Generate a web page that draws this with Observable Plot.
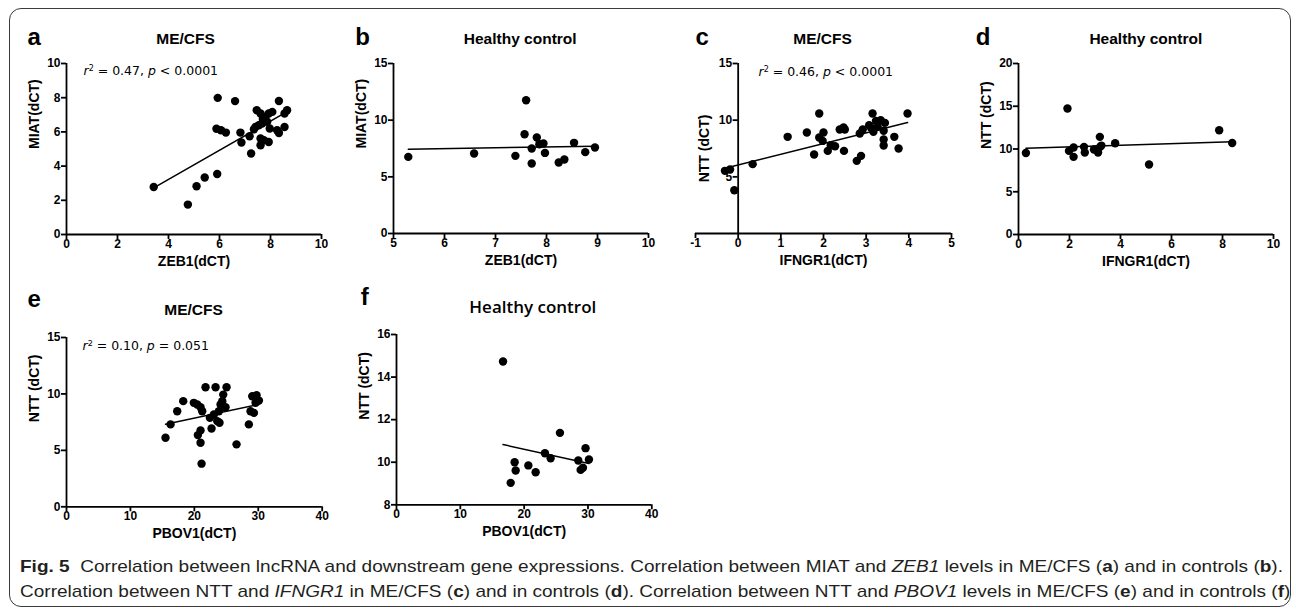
<!DOCTYPE html>
<html>
<head>
<meta charset="utf-8">
<script src="https://cdn.jsdelivr.net/npm/d3@7"></script>
<script src="https://cdn.jsdelivr.net/npm/@observablehq/plot@0.6"></script>
<style>
  html, body { margin: 0; padding: 0; background: #fff; }
  #page { position: relative; width: 1296px; height: 613px; overflow: hidden; background: #fff; }
  #frame { position: absolute; left: 9px; top: 8px; width: 1282px; height: 599px; box-sizing: border-box;
           border: 1.6px solid #3a3a3a; border-radius: 12px; }
  .cap { position: absolute; left: 20px; white-space: nowrap; transform-origin: 0 0;
         font-family: "Liberation Sans Narrow", "Liberation Sans", Arial, sans-serif; font-size: 17px;
         line-height: 20px; color: #231f20; }
  .cap b { font-weight: bold; }
  .cap i { font-style: italic; }
</style>
</head>
<body>
<div id="page">
  <div id="frame"></div>
</div>
<script>
// ---------------- data ----------------
// a: ME/CFS, ZEB1 vs MIAT
const aZEB1 = [3.42, 4.76, 5.10, 5.42, 5.91, 5.93, 6.61, 5.88, 6.06, 6.25, 6.82, 6.86, 7.18, 7.24, 7.41, 7.46, 7.61, 7.54, 7.67, 7.80, 7.93, 8.07, 8.33, 8.65, 8.55, 7.87, 7.97, 7.61, 7.74, 7.61, 7.93, 8.26, 8.55, 8.33, 7.35, 7.70];
const aMIAT = [2.78, 1.75, 2.82, 3.33, 3.54, 7.99, 7.80, 6.18, 6.10, 5.96, 5.96, 5.38, 5.75, 4.74, 6.29, 7.27, 7.08, 6.39, 6.49, 6.88, 7.08, 7.17, 7.81, 7.27, 7.08, 6.59, 6.20, 5.61, 5.51, 5.22, 5.41, 6.10, 6.29, 5.94, 6.15, 6.75];
// b: Healthy control, ZEB1 vs MIAT
const bZEB1 = [5.29, 6.58, 7.39, 7.60, 7.57, 7.71, 7.81, 7.86, 7.94, 7.97, 7.71, 8.24, 8.35, 8.54, 8.76, 8.95];
const bMIAT = [6.76, 7.06, 6.85, 11.76, 8.76, 7.50, 8.47, 7.88, 7.94, 7.11, 6.18, 6.27, 6.53, 8.00, 7.18, 7.59];
// c: ME/CFS, IFNGR1 vs NTT
const cIFNGR1 = [-0.31, -0.19, -0.09, 0.34, 1.16, 1.61, 1.90, 1.90, 2.00, 1.98, 1.78, 2.10, 2.17, 2.27, 2.38, 2.47, 2.50, 2.48, 2.78, 2.88, 2.85, 2.92, 3.07, 3.15, 3.17, 3.27, 3.23, 3.34, 3.44, 3.41, 3.41, 3.41, 3.66, 3.76, 3.97, 3.11];
const cNTT    = [5.53, 5.65, 3.82, 6.12, 8.53, 8.91, 10.59, 8.47, 8.91, 8.17, 6.97, 7.29, 7.79, 7.70, 9.18, 9.35, 9.18, 7.29, 6.41, 6.85, 8.82, 9.18, 9.56, 10.59, 8.97, 9.41, 9.94, 10.00, 9.76, 9.06, 8.30, 7.77, 8.53, 7.50, 10.59, 9.35];
// d: Healthy control, IFNGR1 vs NTT
const dIFNGR1 = [0.29, 1.92, 1.98, 2.16, 2.16, 2.57, 2.60, 2.96, 3.05, 3.12, 3.20, 3.19, 3.25, 3.79, 5.12, 7.87, 8.38];
const dNTT    = [9.54, 14.74, 9.78, 10.17, 9.08, 10.25, 9.59, 9.94, 9.95, 9.59, 10.25, 11.42, 10.40, 10.68, 8.19, 12.20, 10.71];
// e: ME/CFS, PBOV1 vs NTT
const ePBOV1 = [21.75, 23.32, 25.04, 18.26, 17.32, 16.28, 15.49, 19.92, 20.45, 20.97, 21.23, 20.97, 20.55, 20.97, 21.13, 22.69, 22.43, 23.06, 23.58, 23.94, 23.84, 24.10, 24.37, 24.52, 24.88, 26.60, 28.53, 28.79, 29.32, 29.06, 29.73, 30.10, 29.58];
const eNTT   = [10.59, 10.59, 10.59, 9.36, 8.47, 7.30, 6.12, 9.21, 9.06, 8.82, 8.47, 6.77, 6.35, 5.68, 3.82, 6.94, 7.88, 8.18, 7.59, 7.44, 8.47, 9.06, 9.36, 9.94, 8.82, 5.53, 7.30, 8.47, 8.32, 9.80, 9.88, 9.41, 9.21];
// f: Healthy control, PBOV1 vs NTT
const fPBOV1 = [16.69, 17.89, 18.51, 18.67, 20.66, 21.80, 23.26, 24.15, 25.61, 28.48, 28.85, 29.21, 29.62, 30.15];
const fNTT   = [14.73, 9.03, 10.00, 9.61, 9.85, 9.53, 10.42, 10.19, 11.38, 10.08, 9.64, 9.74, 10.66, 10.13];

// tick labels
const ticksA_x = [0, 2, 4, 6, 8, 10], ticksA_y = [0, 2, 4, 6, 8, 10];
const ticksB_x = [5, 6, 7, 8, 9, 10], ticksB_y = [0, 5, 10, 15];
const ticksC_x = [-1, 0, 1, 2, 3, 4, 5], ticksC_y = [5, 10, 15];
const ticksD_x = [0, 2, 4, 6, 8, 10], ticksD_y = [0, 5, 10, 15, 20];
const ticksE_x = [0, 10, 20, 30, 40], ticksE_y = [0, 5, 10, 15];
const ticksF_x = [0, 10, 20, 30, 40], ticksF_y = [8, 10, 12, 14, 16];

// text
const titles = ["ME/CFS", "Healthy control", "ME/CFS", "Healthy control", "ME/CFS", "Healthy control"];
const letters = ["a", "b", "c", "d", "e", "f"];
const stats = {a: ["0.47", "<", "0.0001"], c: ["0.46", "<", "0.0001"], e: ["0.10", "=", "0.051"]};

// ---------------- layout ----------------
const panels = [
  {id: "a", xs: aZEB1, ys: aMIAT, xDomain: [0, 10], yDomain: [0, 10], xTicks: ticksA_x, yTicks: ticksA_y,
   xLabel: "ZEB1(dCT)", yLabel: "MIAT(dCT)", frame: [66, 321, 63.3, 234.3], letterPos: [27, 45], titlePos: [185, 44], statPos: [83, 75]},
  {id: "b", xs: bZEB1, ys: bMIAT, xDomain: [5, 10], yDomain: [0, 15], xTicks: ticksB_x, yTicks: ticksB_y,
   xLabel: "ZEB1(dCT)", yLabel: "MIAT(dCT)", frame: [393.3, 648.3, 63.3, 233.3], letterPos: [355, 45], titlePos: [520, 44]},
  {id: "c", xs: cIFNGR1, ys: cNTT, xDomain: [-1, 5], yDomain: [0, 15], xTicks: ticksC_x, yTicks: ticksC_y, yAxisAtZero: true,
   xLabel: "IFNGR1(dCT)", yLabel: "NTT (dCT)", frame: [695, 951, 63.3, 233.3], letterPos: [695, 45], titlePos: [822, 44], statPos: [758, 75.5]},
  {id: "d", xs: dIFNGR1, ys: dNTT, xDomain: [0, 10], yDomain: [0, 20], xTicks: ticksD_x, yTicks: ticksD_y,
   xLabel: "IFNGR1(dCT)", yLabel: "NTT (dCT)", frame: [1017.7, 1272.7, 63.3, 234.3], letterPos: [975, 45], titlePos: [1145, 44]},
  {id: "e", xs: ePBOV1, ys: eNTT, xDomain: [0, 40], yDomain: [0, 15], xTicks: ticksE_x, yTicks: ticksE_y,
   xLabel: "PBOV1(dCT)", yLabel: "NTT (dCT)", frame: [66, 321.7, 336.7, 506], letterPos: [27, 306], titlePos: [193, 314], statPos: [82, 349]},
  {id: "f", xs: fPBOV1, ys: fNTT, xDomain: [0, 40], yDomain: [8, 16], xTicks: ticksF_x, yTicks: ticksF_y,
   xLabel: "PBOV1(dCT)", yLabel: "NTT (dCT)", frame: [395.7, 651, 334, 504.3], letterPos: [360, 305], titlePos: [532, 313],
   titleFont: "'Open Sans', 'Liberation Sans', sans-serif", titleSize: 17, titleWeight: 600}
];

const FONT = "'Liberation Sans', Arial, Helvetica, sans-serif";
const AX = 1.8;
const fmt = d => String(d);

function renderPanel(p, i) {
  const [fx0, fx1, fy0, fy1] = p.frame;
  const mL = 75, mR = 24, mT = 62, mB = 50;
  const width = fx1 - fx0 + mL + mR;
  const height = fy1 - fy0 + mT + mB;
  const fcx = (fx0 + fx1) / 2;
  const data = p.xs.map((x, k) => ({x, y: p.ys[k]}));
  const axisOpts = {tickSize: 5, strokeWidth: AX, fontSize: 12, fontWeight: "bold", label: null, tickFormat: fmt};
  const st = stats[p.id];
  const statText = st ? `r2 = ${st[0]}, p ${st[1]} ${st[2]}` : null;

  const marks = [
    Plot.ruleY([p.yDomain[0]], {stroke: "#000", strokeWidth: AX}),
    p.yAxisAtZero ? Plot.ruleX([0], {stroke: "#000", strokeWidth: AX})
                  : Plot.ruleX([p.xDomain[0]], {stroke: "#000", strokeWidth: AX}),
    Plot.axisX(p.xTicks, {...axisOpts, tickPadding: 0}),
    p.yAxisAtZero ? Plot.axisY(p.yTicks, {...axisOpts, tickPadding: 1, x: 0})
                  : Plot.axisY(p.yTicks, {...axisOpts, tickPadding: 1}),
    Plot.linearRegressionY(data, {x: "x", y: "y", ci: 0, stroke: "#000", strokeWidth: 1.5}),
    Plot.dot(data, {x: "x", y: "y", r: 4.2, fill: "#000"}),
    Plot.text([letters[i]], {text: d => d, frameAnchor: "top-left", dx: p.letterPos[0] - fx0, dy: p.letterPos[1] - fy0,
      textAnchor: "start", lineAnchor: "bottom", fontSize: 24, fontWeight: "bold"}),
    Plot.text([titles[i]], {text: d => d, frameAnchor: "top", dx: p.titlePos[0] - fcx, dy: p.titlePos[1] - fy0,
      lineAnchor: "bottom", fontSize: p.titleSize || 15.5, fontWeight: p.titleWeight || "bold",
      fontFamily: p.titleFont || FONT}),
    Plot.text([p.xLabel], {text: d => d, frameAnchor: "bottom", dy: 31.5, fontSize: 14, fontWeight: "bold"}),
    p.yAxisAtZero
      ? Plot.text([p.yLabel], {text: d => d, x: () => 0, frameAnchor: "middle", dx: -34, rotate: -90, fontSize: 14, fontWeight: "bold"})
      : Plot.text([p.yLabel], {text: d => d, frameAnchor: "left", dx: -32, rotate: -90, fontSize: 14, fontWeight: "bold"})
  ];
  if (statText) {
    marks.push(Plot.text([statText], {text: d => d, frameAnchor: "top-left", dx: p.statPos[0] - fx0, dy: p.statPos[1] - fy0,
      textAnchor: "start", lineAnchor: "bottom", fontSize: 12.5, fontWeight: "normal",
      fontFamily: "'DejaVu Sans', Verdana, sans-serif"}));
  }

  const chart = Plot.plot({
    width, height, marginLeft: mL, marginRight: mR, marginTop: mT, marginBottom: mB,
    x: {domain: p.xDomain},
    y: {domain: p.yDomain},
    style: {background: "none", overflow: "visible", fontFamily: FONT, fontSize: "12px", color: "#000"},
    marks
  });
  chart.style.position = "absolute";
  chart.style.left = (fx0 - mL) + "px";
  chart.style.top = (fy0 - mT) + "px";
  chart.style.maxWidth = "none";

  // bold 12px tick labels (inline style so nothing overrides it)
  const tickStrings = new Set([...p.xTicks, ...p.yTicks].map(fmt));
  chart.querySelectorAll("text").forEach(t => {
    const g = t.closest("g[aria-label]");
    const isTick = (g && /tick/.test(g.getAttribute("aria-label") || "")) || tickStrings.has(t.textContent);
    if (isTick) {
      t.style.fontSize = "12px";
      t.style.fontWeight = "bold";
      t.style.fill = "#000";
      t.setAttribute("font-size", "12");
      t.setAttribute("font-weight", "bold");
    }
  });
  chart.querySelectorAll("g[aria-label]").forEach(g => {
    if (/tick label/.test(g.getAttribute("aria-label") || "")) {
      g.setAttribute("font-size", "12");
      g.setAttribute("font-weight", "bold");
      g.style.fontSize = "12px";
      g.style.fontWeight = "bold";
    }
  });

  // rich formatting of the statistics line (italic r and p, superscript 2)
  if (statText) {
    chart.querySelectorAll("text").forEach(t => {
      if (t.textContent === statText) {
        const ns = "http://www.w3.org/2000/svg";
        t.textContent = "";
        const parts = [
          ["r", {"font-style": "italic"}],
          ["2", {"font-size": "8", "baseline-shift": "super"}],
          [` = ${st[0]}, `, {}],
          ["p", {"font-style": "italic"}],
          [` ${st[1]} ${st[2]}`, {}]
        ];
        parts.forEach(([s, attrs]) => {
          const ts = document.createElementNS(ns, "tspan");
          ts.textContent = s;
          for (const k in attrs) ts.setAttribute(k, attrs[k]);
          t.appendChild(ts);
        });
      }
    });
  }
  document.getElementById("page").appendChild(chart);
}

panels.forEach(renderPanel);

// ---------------- caption ----------------
const captionLines = [
  '<b>Fig. 5</b>&nbsp; Correlation between lncRNA and downstream gene expressions. Correlation between MIAT and <i>ZEB1</i> levels in ME/CFS (<b>a</b>) and in controls (<b>b</b>).',
  'Correlation between NTT and <i>IFNGR1</i> in ME/CFS (<b>c</b>) and in controls (<b>d</b>). Correlation between NTT and <i>PBOV1</i> levels in ME/CFS (<b>e</b>) and in controls (<b>f</b>)'
];
const capTops = [557, 582];
const capEls = captionLines.map((html, k) => {
  const d = document.createElement("div");
  d.className = "cap";
  d.style.top = capTops[k] + "px";
  d.innerHTML = html;
  document.getElementById("page").appendChild(d);
  return d;
});
function fitCaption() {
  capEls.forEach(el => { el.style.transform = "none"; });
  const w = capEls[0].getBoundingClientRect().width;
  const s = 1263 / w;
  capEls.forEach(el => { el.style.transform = `scaleX(${s})`; });
}
fitCaption();
if (document.fonts && document.fonts.ready) document.fonts.ready.then(fitCaption);
</script>
</body>
</html>
